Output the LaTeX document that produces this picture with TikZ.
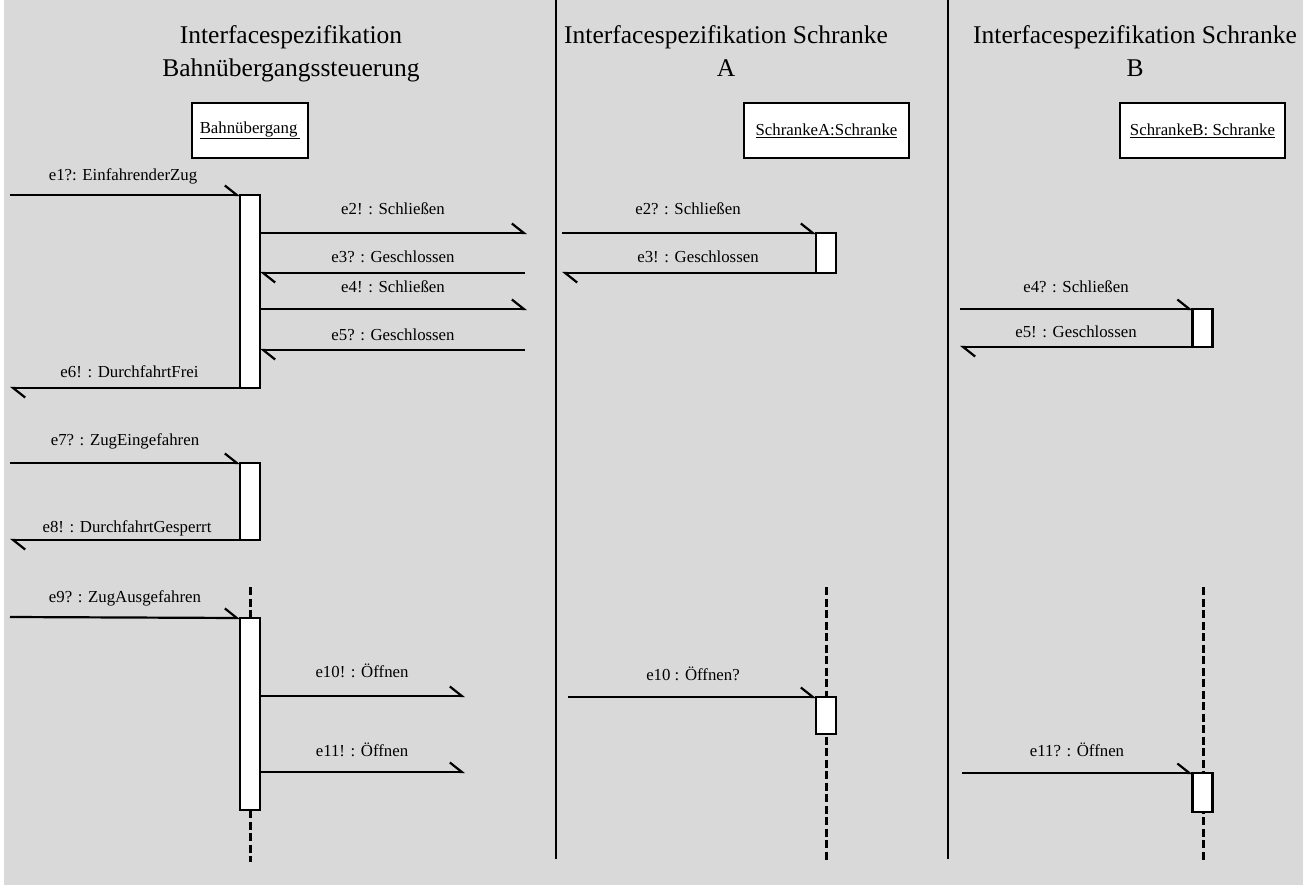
\documentclass[tikz,border=0pt]{standalone}
\usepackage{fontspec}
\setmainfont{Liberation Serif}
\usetikzlibrary{arrows.meta}

\definecolor{panelgray}{HTML}{D9D9D9}

\begin{document}
\begin{tikzpicture}[x=1pt,y=-1pt,
  every node/.style={inner sep=0pt, outer sep=0pt},
  title/.style={font=\fontsize{25.5}{30}\selectfont, anchor=base},
  lbl/.style={font=\fontsize{16.8}{20}\selectfont, anchor=base},
  objbox/.style={draw, line width=2.2pt, fill=white, minimum height=55pt,
                 font=\fontsize{16.8}{20}\selectfont},
  actbar/.style={draw, line width=2.2pt, fill=white, minimum width=20pt},
  msg/.style={line width=2.2pt, -{Straight Barb[harpoon, length=12pt, width=19pt]}},
  divider/.style={line width=2.2pt},
  lifeline/.style={line width=3pt, dash pattern=on 8pt off 3.5pt},
]
% canvas
\fill[panelgray] (0,0) rectangle (1303,885);
\fill[white] (0,0) rectangle (4,885);
\useasboundingbox (0,0) rectangle (1303,885);

% column titles
\node[title] (t1a) at (291,44) {Interfacespezifikation};
\node[title] (t1b) at (291,77) {Bahnübergangssteuerung};
\node[title] (t2a) at (726,44) {Interfacespezifikation Schranke};
\node[title] (t2b) at (726,77) {A};
\node[title] (t3a) at (1135,44) {Interfacespezifikation Schranke};
\node[title] (t3b) at (1135,77) {B};

% column separators
\coordinate (d1t) at (556,0);   \coordinate (d1b) at (556,859);
\coordinate (d2t) at (948,0);   \coordinate (d2b) at (948,859);
\draw[divider] (d1t) -- (d1b);
\draw[divider] (d2t) -- (d2b);

% object boxes
\node[objbox, minimum width=116pt] (oB) at (250,130.5) {\underline{Bahnübergang\,}};
\node[objbox, minimum width=165pt] (oA) at (826.5,130.5) {\underline{SchrankeA:Schranke}};
\node[objbox, minimum width=165pt] (oS) at (1202.5,130.5) {\underline{SchrankeB: Schranke}};

% lifelines of the barriers (behind the activation bars)
\coordinate (lAt) at (826,587);  \coordinate (lAb) at (826,862);
\coordinate (lBt) at (1203,587); \coordinate (lBb) at (1203,862);
\draw[lifeline] (lAt) -- (lAb);
\draw[lifeline] (lBt) -- (lBb);

% activation bars
\node[actbar, minimum height=193pt] (b1) at (250,291.5) {};
\node[actbar, minimum height=77pt]  (b2) at (250,501.5) {};
\node[actbar, minimum height=192pt] (b3) at (250,714) {};
\node[actbar, minimum height=40pt]  (bA1) at (826,253) {};
\node[actbar, minimum height=37pt]  (bA2) at (826,715.5) {};
\node[actbar, minimum height=38pt]  (bB1) at (1202.5,328) {};
\node[actbar, minimum height=39pt]  (bB2) at (1202.5,792.5) {};

% lifeline of the crossing controller
\coordinate (l1t) at (250,587); \coordinate (l1b) at (250,862);
\draw[lifeline] (l1t) -- (b3.north);
\draw[lifeline] (b3.south) -- (l1b);

% free message ends
\coordinate (e1s) at (10,195);
\coordinate (e2e) at (527,233);
\coordinate (e3s) at (525,273);
\coordinate (e4e) at (527,309);
\coordinate (e5s) at (525,350);
\coordinate (e6e) at (10,388);
\coordinate (e7s) at (10,463);
\coordinate (e8e) at (10,540);
\coordinate (e9s) at (10,617);
\coordinate (e10e) at (465,696);
\coordinate (e11e) at (465,772);
\coordinate (a2s) at (562,233);
\coordinate (a3e) at (562,273);
\coordinate (a10s) at (568,697);
\coordinate (s4s) at (960,309);
\coordinate (s5e) at (960,347);
\coordinate (s11s) at (962,773);

% messages of the crossing controller
\draw[msg] (e1s) -- (b1.north west);
\draw[msg] (b1.east |- e2e) -- (e2e);
\draw[msg] (e3s) -- (b1.east |- e3s);
\draw[msg] (b1.east |- e4e) -- (e4e);
\draw[msg] (e5s) -- (b1.east |- e5s);
\draw[msg] (b1.south west) -- (e6e);
\draw[msg] (e7s) -- (b2.north west);
\draw[msg] (b2.south west) -- (e8e);
\draw[msg] (e9s) -- (b3.north west);
\draw[msg] (b3.east |- e10e) -- (e10e);
\draw[msg] (b3.east |- e11e) -- (e11e);

% messages of barrier A
\draw[msg] (a2s) -- (bA1.north west);
\draw[msg] (bA1.south west) -- (a3e);
\draw[msg] (a10s) -- (bA2.north west);

% messages of barrier B
\draw[msg] (s4s) -- (bB1.north west);
\draw[msg] (bB1.south west) -- (s5e);
\draw[msg] (s11s) -- (bB2.north west);

% message labels
\node[lbl] (m1) at (123,181) {e1?: EinfahrenderZug};
\node[lbl] (m2) at (393,215) {e2! : Schließen};
\node[lbl] (m3) at (393,263) {e3? : Geschlossen};
\node[lbl] (m4) at (393,292) {e4! : Schließen};
\node[lbl] (m5) at (393,340) {e5? : Geschlossen};
\node[lbl] (m6) at (129.5,377) {e6! : DurchfahrtFrei};
\node[lbl] (m7) at (125,445) {e7? : ZugEingefahren};
\node[lbl] (m8) at (127,532) {e8! : DurchfahrtGesperrt};
\node[lbl] (m9) at (125,602) {e9? : ZugAusgefahren};
\node[lbl] (m10) at (362,677) {e10! : Öffnen};
\node[lbl] (m11) at (362,756) {e11! : Öffnen};
\node[lbl] (ma2) at (688,215) {e2? : Schließen};
\node[lbl] (ma3) at (698,263) {e3! : Geschlossen};
\node[lbl] (ma10) at (693,680) {e10 : Öffnen?};
\node[lbl] (ms4) at (1076,292) {e4? : Schließen};
\node[lbl] (ms5) at (1076,337) {e5! : Geschlossen};
\node[lbl] (ms11) at (1077,756) {e11? : Öffnen};
\end{tikzpicture}
\end{document}
